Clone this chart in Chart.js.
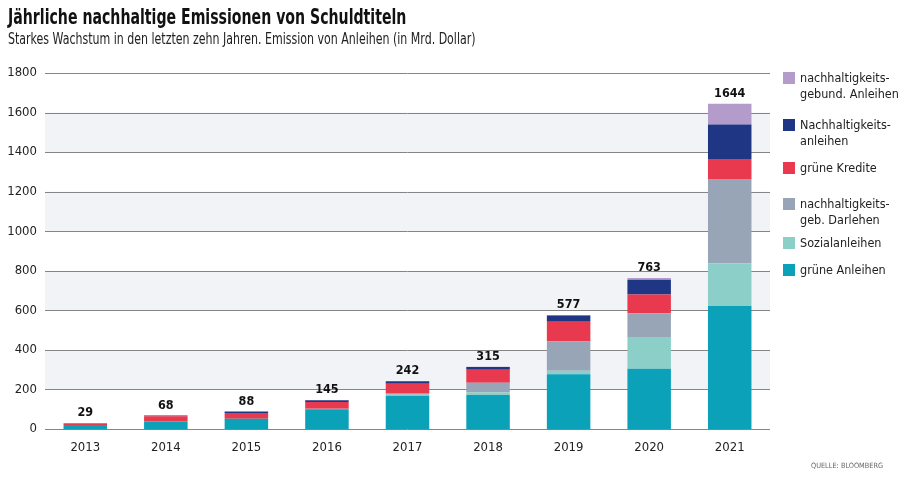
<!DOCTYPE html>
<html>
<head>
<meta charset="utf-8">
<script src="https://cdn.jsdelivr.net/npm/chart.js@4.4.1/dist/chart.umd.min.js"></script>
<style>
  html, body { margin: 0; padding: 0; background: #fff; }
  body { width: 900px; height: 481px; position: relative; overflow: hidden;
         font-family: "Liberation Sans Narrow", "DejaVu Sans Condensed", "Roboto", sans-serif; }
  #wrap { position: absolute; left: 0; top: 0; width: 900px; height: 481px; }
  #title { position: absolute; left: 8px; top: 4px; font-size: 21.5px; font-weight: bold; color: #111;
           white-space: nowrap; transform: scaleX(0.73); transform-origin: 0 0; }
  #subtitle { position: absolute; left: 8px; top: 30px; font-size: 15.5px; color: #222;
              white-space: nowrap; transform: scaleX(0.79); transform-origin: 0 0; }
  #legend { position: absolute; left: 783px; top: 0; width: 117px; }
  .item { position: absolute; left: 0; font-size: 12.5px; line-height: 16px; color: #222; }
  .item span.box { position: absolute; left: 0; top: 2px; width: 12px; height: 12px; }
  .item span.txt { display: block; margin-left: 17px; white-space: nowrap; }
  #source { position: absolute; left: 811px; top: 461px; font-size: 7.3px; color: #666; white-space: nowrap; }
</style>
</head>
<body>
<div id="wrap"><canvas id="chart" width="900" height="481"></canvas></div>
<div id="title">Jährliche nachhaltige Emissionen von Schuldtiteln</div>
<div id="subtitle">Starkes Wachstum in den letzten zehn Jahren. Emission von Anleihen (in Mrd. Dollar)</div>
<div id="legend"></div>
<div id="source">QUELLE: BLOOMBERG</div>
<script>
// values (Mrd. Dollar)
var years = ['2013', '2014', '2015', '2016', '2017', '2018', '2019', '2020', '2021'];
var grueneAnleihen = [20, 38, 52, 100, 168, 172, 277, 305, 622];
var sozialAnleihen = [0, 0, 0, 0, 5, 12, 17, 160, 216];
var darlehen = [0, 0, 0, 2, 9, 50, 148, 120, 426];
var grueneKredite = [9, 27, 29, 35, 47, 65, 100, 95, 101];
var nachhAnleihen = [0, 3, 7, 8, 13, 14, 32, 75, 175];
var gebundAnleihen = [0, 0, 0, 0, 0, 2, 3, 8, 104];
var totals = [29, 68, 88, 145, 242, 315, 577, 763, 1644];
var yTicks = [0, 200, 400, 600, 800, 1000, 1200, 1400, 1600, 1800];

// series names and colours, bottom of the stack first
var seriesNames = [
    ['grüne Anleihen'],
    ['Sozialanleihen'],
    ['nachhaltigkeits-', 'geb. Darlehen'],
    ['grüne Kredite'],
    ['Nachhaltigkeits-', 'anleihen'],
    ['nachhaltigkeits-', 'gebund. Anleihen']
];
var seriesData = [grueneAnleihen, sozialAnleihen, darlehen, grueneKredite, nachhAnleihen, gebundAnleihen];
var seriesColors = ['#0aa1b9', '#8ccfc9', '#97a5b6', '#e8394f', '#1e3684', '#b39ccb'];

var fontFam = '"Liberation Sans Narrow", "DejaVu Sans Condensed", "Roboto", sans-serif';

// shaded bands behind the bars (200-400, 600-800, ...)
var bandPlugin = {
    id: 'bands',
    beforeDatasetsDraw: function (chart) {
        var ctx = chart.ctx, y = chart.scales.y, a = chart.chartArea;
        ctx.save();
        ctx.fillStyle = '#f2f3f7';
        for (var v = 200; v < 1800; v += 400) {
            var y1 = y.getPixelForValue(v + 200), y0 = y.getPixelForValue(v);
            ctx.fillRect(a.left, y1, a.right - a.left, y0 - y1);
        }
        // grid lines over the bands
        ctx.strokeStyle = '#858585';
        ctx.lineWidth = 1;
        yTicks.forEach(function (t) {
            var py = Math.round(y.getPixelForValue(t)) + 0.5;
            ctx.beginPath();
            ctx.moveTo(a.left, py);
            ctx.lineTo(a.right, py);
            ctx.stroke();
        });
        ctx.restore();
    }
};

// totals on top of each bar
var totalsPlugin = {
    id: 'totals',
    afterDatasetsDraw: function (chart) {
        var ctx = chart.ctx, x = chart.scales.x, y = chart.scales.y;
        ctx.save();
        ctx.font = 'bold 12.5px ' + fontFam;
        ctx.fillStyle = '#111';
        ctx.textAlign = 'center';
        ctx.textBaseline = 'bottom';
        totals.forEach(function (t, i) {
            ctx.fillText(String(t), x.getPixelForValue(i), y.getPixelForValue(t) - 4);
        });
        ctx.restore();
    }
};

var datasets = seriesData.map(function (d, i) {
    return {
        label: seriesNames[i].join(' '),
        data: d,
        backgroundColor: seriesColors[i],
        borderWidth: 0,
        barPercentage: 0.54,
        categoryPercentage: 1.0
    };
});

new Chart(document.getElementById('chart'), {
    type: 'bar',
    data: { labels: years, datasets: datasets },
    options: {
        responsive: false,
        animation: false,
        layout: { padding: { left: 0, right: 130, top: 73, bottom: 0 } },
        plugins: { legend: { display: false }, tooltip: { enabled: false } },
        scales: {
            x: {
                stacked: true,
                grid: { display: false },
                border: { display: false },
                ticks: { color: '#222', font: { family: fontFam, size: 13 }, padding: 3 },
                afterFit: function (s) { s.height = 52; }
            },
            y: {
                stacked: true,
                min: 0,
                max: 1800,
                afterBuildTicks: function (s) { s.ticks = yTicks.map(function (v) { return { value: v }; }); },
                grid: { display: false },
                border: { display: false },
                ticks: {
                    color: '#222', font: { family: fontFam, size: 13 }, padding: 0,
                    callback: function (v) { return String(v); }
                },
                afterFit: function (s) { s.width = 45; }
            }
        }
    },
    plugins: [bandPlugin, totalsPlugin]
});

// legend on the right, top of the stack first
var legendTops = [70, 117, 160, 196, 235, 262];
var leg = document.getElementById('legend');
for (var k = seriesNames.length - 1, n = 0; k >= 0; k--, n++) {
    var div = document.createElement('div');
    div.className = 'item';
    div.style.top = legendTops[n] + 'px';
    div.innerHTML = '<span class="box" style="background:' + seriesColors[k] + '"></span>' +
        '<span class="txt">' + seriesNames[k].join('<br>') + '</span>';
    leg.appendChild(div);
}
</script>
</body>
</html>
